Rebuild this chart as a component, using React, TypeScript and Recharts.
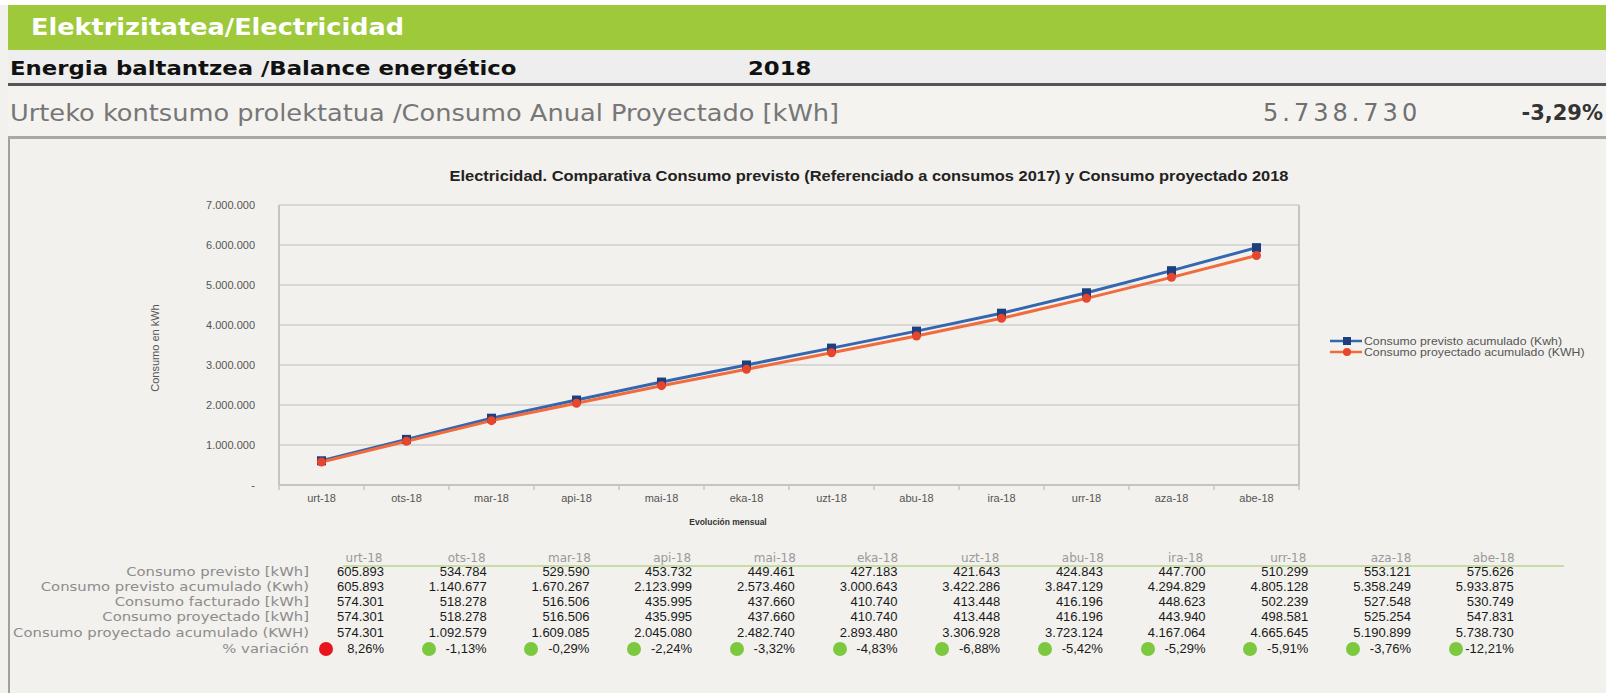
import React from 'react';
import { LineChart, Line, XAxis, YAxis, CartesianGrid } from 'recharts';

const months = ['urt-18', 'ots-18', 'mar-18', 'api-18', 'mai-18', 'eka-18', 'uzt-18', 'abu-18', 'ira-18', 'urr-18', 'aza-18', 'abe-18'];
const consumoPrevisto = [605893, 534784, 529590, 453732, 449461, 427183, 421643, 424843, 447700, 510299, 553121, 575626];
const consumoPrevistoAcum = [605893, 1140677, 1670267, 2123999, 2573460, 3000643, 3422286, 3847129, 4294829, 4805128, 5358249, 5933875];
const consumoFacturado = [574301, 518278, 516506, 435995, 437660, 410740, 413448, 416196, 448623, 502239, 527548, 530749];
const consumoProyectado = [574301, 518278, 516506, 435995, 437660, 410740, 413448, 416196, 443940, 498581, 525254, 547831];
const consumoProyectadoAcum = [574301, 1092579, 1609085, 2045080, 2482740, 2893480, 3306928, 3723124, 4167064, 4665645, 5190899, 5738730];
const variacion = [8.26, -1.13, -0.29, -2.24, -3.32, -4.83, -6.88, -5.42, -5.29, -5.91, -3.76, -12.21];
const yTicks = [0, 1000000, 2000000, 3000000, 4000000, 5000000, 6000000, 7000000];

const headerTitle = 'Elektrizitatea/Electricidad';
const balanceTitle = 'Energia baltantzea /Balance energético';
const balanceYear = '2018';
const annualLabel = 'Urteko kontsumo prolektatua /Consumo Anual Proyectado [kWh]';
const annualValue = 5738730;
const annualVariation = -3.29;
const chartTitle = 'Electricidad. Comparativa Consumo previsto (Referenciado a consumos 2017) y Consumo proyectado 2018';
const yAxisTitle = 'Consumo en kWh';
const xAxisTitle = 'Evolución mensual';
const seriesNames = ['Consumo previsto acumulado (Kwh)', 'Consumo proyectado acumulado (KWH)'];
const rowLabels = [
  'Consumo previsto [kWh]',
  'Consumo previsto acumulado (Kwh)',
  'Consumo facturado [kWh]',
  'Consumo proyectado [kWh]',
  'Consumo proyectado acumulado (KWH)',
];
const variationLabel = '% variación';

const fmtNum = (n: number) => String(n).replace(/\B(?=(\d{3})+(?!\d))/g, '.');
const fmtAxis = (n: number) => (n === 0 ? '-' : fmtNum(n));
const fmtPct = (v: number) => v.toFixed(2).replace('.', ',') + '%';

const chartData = months.map((m, i) => ({
  month: m,
  previsto: consumoPrevistoAcum[i],
  proyectado: consumoProyectadoAcum[i],
}));

const BLUE_LINE = '#3566b0';
const BLUE_MARK = '#1d3f80';
const ORANGE_LINE = '#f26b3c';
const ORANGE_MARK = '#e8462c';

const PLOT_LEFT = 279;
const PLOT_RIGHT = 1299;
const BAND = (PLOT_RIGHT - PLOT_LEFT) / months.length;

const XTick = (props: any) => {
  const { x, y, payload, index } = props;
  const last = index === months.length - 1;
  return (
    <g>
      <line x1={x - BAND / 2} x2={x - BAND / 2} y1={y} y2={y + 5} stroke="#c4c4c4" strokeWidth={1.5} />
      {last && <line x1={x + BAND / 2} x2={x + BAND / 2} y1={y} y2={y + 5} stroke="#c4c4c4" strokeWidth={1.5} />}
      <text x={x} y={y + 17} textAnchor="middle" fill="#555" fontSize={11} fontFamily="Liberation Sans, Arial, sans-serif">
        {payload.value}
      </text>
    </g>
  );
};

const SquareDot = (props: any) => {
  const { cx, cy, index } = props;
  if (cx == null || cy == null) return <g key={index} />;
  return <rect key={index} x={cx - 4.5} y={cy - 4.5} width={9} height={9} fill={BLUE_MARK} />;
};

const RoundDot = (props: any) => {
  const { cx, cy, index } = props;
  if (cx == null || cy == null) return <g key={index} />;
  return <circle key={index} cx={cx} cy={cy} r={4.5} fill={ORANGE_MARK} />;
};

const colRight = (i: number) => 384 + i * 102.7;
const rowY = [572, 587, 602, 617, 633];
const varY = 649;
const headerY = 558;

export default function App() {
  const sans = '"DejaVu Sans", Verdana, sans-serif';
  const arial = '"Liberation Sans", Arial, sans-serif';
  return (
    <div style={{ position: 'relative', width: 1606, height: 693, background: '#f2f1ed', overflow: 'hidden', fontFamily: sans }}>
      <style>{'body{margin:0;}'}</style>
      <div style={{ position: 'absolute', left: 0, top: 0, width: 1606, height: 5, background: '#ffffff' }} />
      {/* green header */}
      <div style={{ position: 'absolute', left: 8, top: 5, width: 1598, height: 45, background: '#9dc93b' }} />
      <div style={{ position: 'absolute', left: 31, top: 5, height: 45, lineHeight: '45px', color: '#fff', fontSize: 23, fontWeight: 'bold', fontFamily: sans, transform: 'scaleX(1.11)', transformOrigin: 'left center', whiteSpace: 'nowrap' }}>
        {headerTitle}
      </div>
      {/* row 2 */}
      <div style={{ position: 'absolute', left: 8, top: 50, width: 1598, height: 33, background: '#eeeeee' }} />
      <div style={{ position: 'absolute', left: 8, top: 83, width: 1598, height: 3, background: '#555' }} />
      <div style={{ position: 'absolute', left: 10, top: 50, height: 33, lineHeight: '36px', color: '#111', fontSize: 20, fontWeight: 'bold', fontFamily: sans, transform: 'scaleX(1.14)', transformOrigin: 'left center', whiteSpace: 'nowrap' }}>
        {balanceTitle}
      </div>
      <div style={{ position: 'absolute', left: 748, top: 50, height: 33, lineHeight: '36px', color: '#111', fontSize: 20, fontWeight: 'bold', fontFamily: sans, transform: 'scaleX(1.14)', transformOrigin: 'left center' }}>
        {balanceYear}
      </div>
      {/* row 3 */}
      <div style={{ position: 'absolute', left: 8, top: 86, width: 1598, height: 50, background: '#f4f3f0' }} />
      <div style={{ position: 'absolute', left: 8, top: 136, width: 1598, height: 3, background: '#a8a8a8' }} />
      <div style={{ position: 'absolute', left: 10, top: 86, height: 50, lineHeight: '54px', color: '#777', fontSize: 23, fontFamily: sans, transform: 'scaleX(1.115)', transformOrigin: 'left center', whiteSpace: 'nowrap' }}>
        {annualLabel}
      </div>
      <div style={{ position: 'absolute', left: 1263, top: 86, height: 50, lineHeight: '54px', color: '#707070', fontSize: 24, fontFamily: sans, letterSpacing: 4 }}>
        {fmtNum(annualValue)}
      </div>
      <div style={{ position: 'absolute', right: 3, top: 86, height: 50, lineHeight: '54px', color: '#333', fontSize: 21, fontWeight: 'bold', fontFamily: sans }}>
        {fmtPct(annualVariation)}
      </div>
      {/* left border */}
      <div style={{ position: 'absolute', left: 8, top: 139, width: 2, height: 560, background: '#a0a0a0' }} />

      {/* chart title */}
      <div style={{ position: 'absolute', left: 352, top: 167, width: 1034, textAlign: 'center', color: '#222', fontSize: 15, fontWeight: 'bold', fontFamily: arial, whiteSpace: 'nowrap', transform: 'scaleX(1.094)', transformOrigin: 'center center' }}>
        {chartTitle}
      </div>
      {/* y axis title */}
      <div style={{ position: 'absolute', left: 155 - 60, top: 348 - 7, width: 120, height: 14, textAlign: 'center', transform: 'rotate(-90deg)', color: '#555', fontSize: 11, fontFamily: arial, lineHeight: '14px', whiteSpace: 'nowrap' }}>
        {yAxisTitle}
      </div>
      {/* x axis title */}
      <div style={{ position: 'absolute', left: 628, top: 516, width: 200, textAlign: 'center', color: '#333', fontSize: 8.5, fontWeight: 'bold', fontFamily: arial, lineHeight: '12px' }}>
        {xAxisTitle}
      </div>

      <div style={{ position: 'absolute', left: 0, top: 150 }}>
        <LineChart width={1606} height={380} data={chartData} margin={{ top: 55, right: 306, bottom: 5, left: 155 }}>
          <CartesianGrid vertical={false} stroke="#d8d8d6" strokeWidth={2} />
          <XAxis
            dataKey="month"
            axisLine={{ stroke: '#c4c4c4', strokeWidth: 2 }}
            tickLine={false}
            tickSize={0}
            tickMargin={0}
            height={40}
            interval={0}
            padding={{ left: BAND / 2, right: BAND / 2 }}
            tick={<XTick />}
          />
          <YAxis
            width={124}
            domain={[0, 7000000]}
            ticks={yTicks}
            tickFormatter={fmtAxis}
            axisLine={{ stroke: '#c4c4c4', strokeWidth: 2 }}
            tickLine={false}
            tickSize={0}
            tickMargin={24}
            tick={{ fill: '#555', fontSize: 11, fontFamily: 'Liberation Sans, Arial, sans-serif' }}
          />
          <YAxis
            yAxisId="right"
            orientation="right"
            width={1}
            domain={[0, 7000000]}
            tick={false}
            tickLine={false}
            axisLine={{ stroke: '#c4c4c4', strokeWidth: 2 }}
          />
          <Line
            type="linear"
            dataKey="previsto"
            name={seriesNames[0]}
            stroke={BLUE_LINE}
            strokeWidth={3}
            dot={<SquareDot />}
            activeDot={false}
            isAnimationActive={false}
          />
          <Line
            type="linear"
            dataKey="proyectado"
            name={seriesNames[1]}
            stroke={ORANGE_LINE}
            strokeWidth={3}
            dot={<RoundDot />}
            activeDot={false}
            isAnimationActive={false}
          />
        </LineChart>
      </div>

      {/* legend */}
      <div style={{ position: 'absolute', left: 1330, top: 335, fontFamily: arial, fontSize: 10.5, color: '#555' }}>
        {seriesNames.map((n, i) => (
          <div key={n} style={{ display: 'flex', alignItems: 'center', height: 11 }}>
            <svg width={32} height={10} style={{ marginRight: 2 }}>
              <line x1={0} x2={32} y1={5} y2={5} stroke={i === 0 ? BLUE_LINE : ORANGE_LINE} strokeWidth={2.5} />
              {i === 0 ? (
                <rect x={13} y={1} width={8} height={8} fill={BLUE_MARK} />
              ) : (
                <circle cx={17} cy={5} r={4} fill={ORANGE_MARK} />
              )}
            </svg>
            <span style={{ whiteSpace: 'nowrap', display: 'inline-block', transform: 'scaleX(1.17)', transformOrigin: 'left center' }}>{n}</span>
          </div>
        ))}
      </div>

      {/* table */}
      <div style={{ position: 'absolute', left: 343, top: 565, width: 1221, height: 1.5, background: '#c8dca6' }} />
      {months.map((m, i) => (
        <div key={'h' + m} style={{ position: 'absolute', left: colRight(i) - 70, top: headerY - 8, width: 100, textAlign: 'center', color: '#9a9a9a', fontSize: 12, fontFamily: sans, lineHeight: '16px' }}>
          {m}
        </div>
      ))}
      {rowLabels.map((lab, r) => (
        <div key={lab} style={{ position: 'absolute', left: 0, top: rowY[r] - 8, width: 309, textAlign: 'right', color: '#8c8c8c', fontSize: 13, fontFamily: sans, lineHeight: '16px', whiteSpace: 'nowrap', transform: 'scaleX(1.14)', transformOrigin: 'right center' }}>
          {lab}
        </div>
      ))}
      <div style={{ position: 'absolute', left: 0, top: varY - 8, width: 309, textAlign: 'right', color: '#8c8c8c', fontSize: 13, fontFamily: sans, lineHeight: '16px', whiteSpace: 'nowrap', transform: 'scaleX(1.14)', transformOrigin: 'right center' }}>
        {variationLabel}
      </div>
      {[consumoPrevisto, consumoPrevistoAcum, consumoFacturado, consumoProyectado, consumoProyectadoAcum].map((row, r) =>
        row.map((v, i) => (
          <div key={r + '-' + i} style={{ position: 'absolute', left: colRight(i) - 100, top: rowY[r] - 8, width: 100, textAlign: 'right', color: '#1a1a1a', fontSize: 13, fontFamily: arial, lineHeight: '16px' }}>
            {fmtNum(v)}
          </div>
        ))
      )}
      {variacion.map((v, i) => (
        <React.Fragment key={'v' + i}>
          <div style={{ position: 'absolute', left: colRight(i) - 58 - 7, top: varY - 7, width: 14, height: 14, borderRadius: 7, background: v > 0 ? '#e8151c' : '#7cc83f' }} />
          <div style={{ position: 'absolute', left: colRight(i) - 100, top: varY - 8, width: 100, textAlign: 'right', color: '#1a1a1a', fontSize: 13, fontFamily: arial, lineHeight: '16px' }}>
            {fmtPct(v)}
          </div>
        </React.Fragment>
      ))}
    </div>
  );
}
